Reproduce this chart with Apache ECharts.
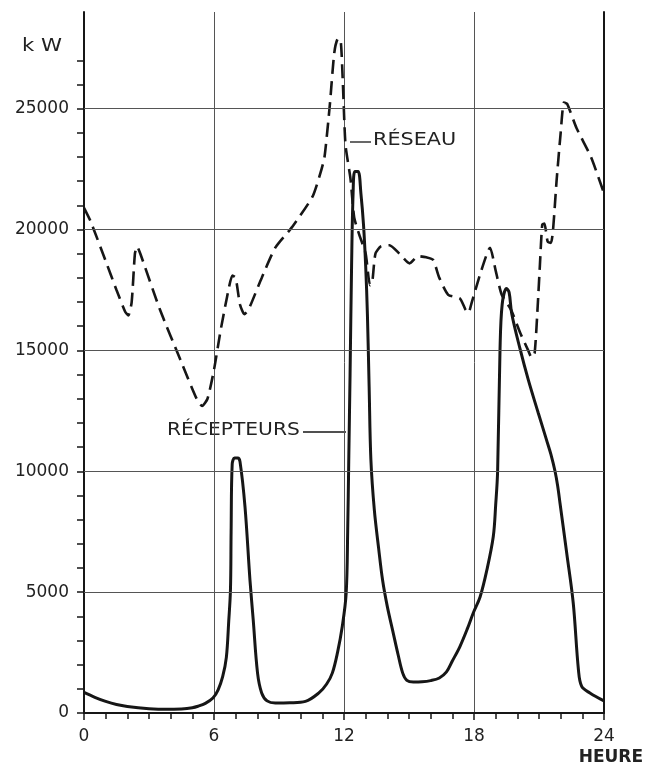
<!DOCTYPE html>
<html><head><meta charset="utf-8">
<script src="https://cdn.jsdelivr.net/npm/echarts@6/dist/echarts.min.js"></script>
<style>html,body{margin:0;padding:0;background:#fff}#c{width:645px;height:767px}</style>
</head><body><div id="c"></div>
<script>
// RÉCEPTEURS (solid curve): hour, kW
const hoursRecepteurs = [0,0.5,1,1.5,2,3,3.8,4.5,5,5.26,5.6,5.95,6.19,6.4,6.57,6.68,6.76,6.79,6.84,6.95,7.1,7.2,7.43,7.66,7.81,8.01,8.2,8.45,8.83,9.5,10.22,10.84,11.2,11.46,11.7,11.92,12.1,12.17,12.22,12.28,12.35,12.42,12.5,12.65,12.78,12.9,13.0,13.08,13.16,13.24,13.4,13.6,13.78,14.0,14.25,14.5,14.71,14.9,15.2,15.6,16.0,16.4,16.73,17.0,17.35,17.7,17.97,18.28,18.59,18.89,19.0,19.09,19.2,19.3,19.5,19.62,19.74,20.12,20.51,20.97,21.35,21.55,21.74,21.86,21.97,22.28,22.58,22.82,22.97,23.35,24];
const kwRecepteurs = [850,650,480,350,270,180,150,170,220,280,400,620,960,1500,2300,3800,5100,7500,10300,10550,10550,10400,8540,5500,3850,1650,830,500,410,420,480,830,1200,1650,2500,3580,4950,7500,10500,14000,18500,21500,22400,22400,21500,20200,18500,16500,13500,10500,8400,6800,5500,4400,3400,2400,1650,1350,1280,1290,1340,1450,1700,2150,2750,3500,4150,4800,5900,7300,8600,10000,15000,16900,17560,17400,16530,15080,13770,12400,11290,10700,10000,9400,8680,6610,4550,1790,1100,830,500];
// RÉSEAU (dashed curve): hour, kW
const hoursReseau = [0,0.3,1.0,1.5,1.9,2.05,2.2,2.35,2.45,2.6,3.5,4.5,5.2,5.45,5.7,6.0,6.3,6.6,6.85,7.0,7.2,7.4,7.6,8.2,8.83,9.6,10.54,10.9,11.1,11.35,11.55,11.72,11.85,11.95,12.07,12.3,12.47,12.7,13.0,13.2,13.3,13.45,13.7,14.1,14.56,15.03,15.42,15.8,16.11,16.4,16.81,17.35,17.6,17.74,17.9,18.3,18.74,19.0,19.28,19.7,20.12,20.5,20.66,20.8,20.95,21.04,21.15,21.25,21.4,21.55,21.65,21.81,22.0,22.15,22.3,22.73,23.4,24];
const kwReseau = [20900,20350,18700,17500,16600,16450,17000,19000,19300,19000,16700,14500,13000,12700,13000,14200,15800,17200,18100,18000,16900,16500,16700,18000,19250,20100,21350,22300,23000,25200,27300,27900,27800,26000,23500,22100,20500,19800,19000,17700,17800,19000,19300,19350,19000,18600,18900,18850,18750,18000,17300,17150,16700,16550,17000,18200,19250,18300,17300,16700,15750,15000,14700,14900,17000,18500,20200,20250,19500,19450,20000,22000,24000,25250,25200,24200,23000,21500];
// axis ticks / labels / grid
const xTickLabels = [0,6,12,18,24];
const yTickLabels = [0,5000,10000,15000,20000,25000];
const yTicks = [0,1000,2000,3000,4000,5000,6000,7000,8000,9000,10000,11000,12000,13000,14000,15000,16000,17000,18000,19000,20000,21000,22000,23000,24000,25000,26000,27000];
const gridY = [5000,10000,15000,20000,25000];

const ink = '#161616';
const font = 'DejaVu Sans';
const pair = (xs, ys) => xs.map((x, i) => [x, ys[i]]);

const chart = echarts.init(document.getElementById('c'), null, {renderer: 'canvas'});
chart.setOption({
  backgroundColor: '#ffffff',
  animation: false,
  grid: {left: 84, right: 41, top: 12, bottom: 54},
  xAxis: {
    type: 'value', min: xTickLabels[0], max: xTickLabels[xTickLabels.length - 1], interval: 6,
    axisLine: {show: true, lineStyle: {color: ink, width: 2}},
    axisTick: {show: true, length: 7, lineStyle: {color: ink, width: 1.5}},
    minorTick: {show: true, splitNumber: 6, length: 6, lineStyle: {color: ink, width: 1.5}},
    splitLine: {show: true, lineStyle: {color: '#555', width: 1}},
    axisLabel: {color: '#222', fontSize: 17, fontFamily: font, margin: 15, formatter: v => String(v)}
  },
  yAxis: [{
    type: 'value', min: 0, max: 29000,
    axisLine: {show: true, lineStyle: {color: ink, width: 2}},
    axisTick: {show: true, length: 7, customValues: yTicks, lineStyle: {color: ink, width: 1.5}},
    axisLabel: {customValues: yTickLabels, color: '#222', fontSize: 17, fontFamily: font, margin: 15, formatter: v => String(v)},
    splitLine: {show: false}
  }, {
    type: 'value', min: 0, max: 29000, position: 'right',
    axisLine: {show: true, lineStyle: {color: ink, width: 2}},
    axisTick: {show: false}, axisLabel: {show: false}, splitLine: {show: false}
  }],
  series: [{
    name: 'RÉSEAU', type: 'line', data: pair(hoursReseau, kwReseau),
    smooth: 0.2, symbol: 'none',
    lineStyle: {color: ink, width: 2.6, type: [14, 7]},
    markLine: {
      silent: true, symbol: 'none', label: {show: false},
      lineStyle: {color: '#555', width: 1, type: 'solid'},
      data: gridY.map(v => ({yAxis: v}))
    },
    z: 3
  }, {
    name: 'RÉCEPTEURS', type: 'line', data: pair(hoursRecepteurs, kwRecepteurs),
    smooth: 0.35, symbol: 'none',
    lineStyle: {color: ink, width: 3},
    z: 4
  }],
  graphic: [
    {type: 'text', left: 22, top: 38, scaleX: 1.25, style: {text: 'k W', fontSize: 17, fontFamily: font, fill: '#222'}},
    {type: 'text', right: 2, top: 749, style: {text: 'HEURE', fontSize: 17, fontWeight: 'bold', fontFamily: font, fill: '#222'}},
    {type: 'text', left: 373, top: 132, scaleX: 1.22, style: {text: 'RÉSEAU', fontSize: 17, fontFamily: font, fill: '#222'}},
    {type: 'line', shape: {x1: 350, y1: 142, x2: 371, y2: 142}, style: {stroke: ink, lineWidth: 1.3}},
    {type: 'text', left: 167, top: 422, scaleX: 1.19, style: {text: 'RÉCEPTEURS', fontSize: 17, fontFamily: font, fill: '#222'}},
    {type: 'line', shape: {x1: 303, y1: 432, x2: 346, y2: 432}, style: {stroke: ink, lineWidth: 1.3}}
  ]
});
</script></body></html>
